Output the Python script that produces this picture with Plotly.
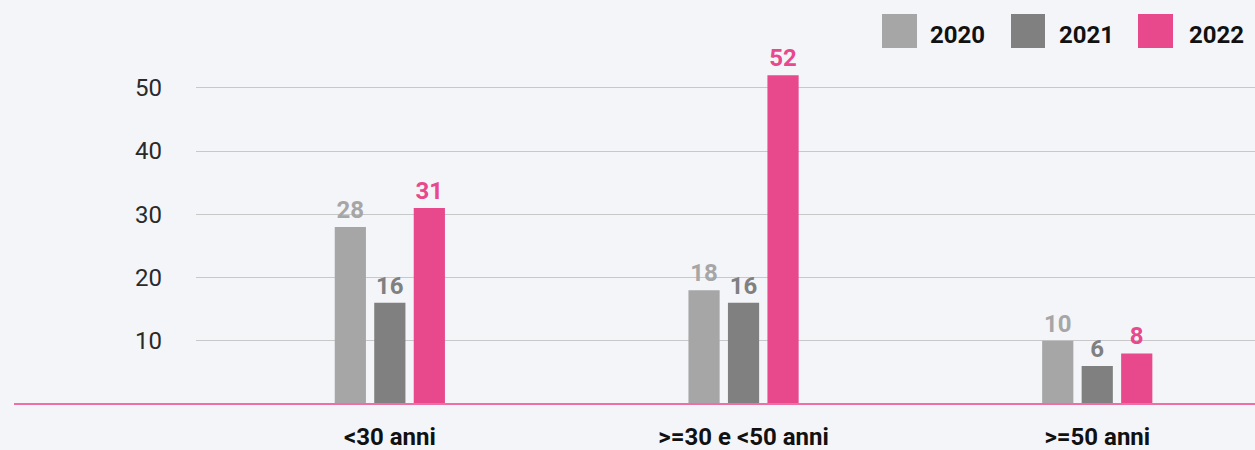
import plotly.graph_objects as go

# Data
categories = ["&lt;30 anni", "&gt;=30 e &lt;50 anni", "&gt;=50 anni"]
years = ["2020", "2021", "2022"]
values_2020 = [28, 18, 10]
values_2021 = [16, 16, 6]
values_2022 = [31, 52, 8]
colors = ["#a6a6a6", "#808080", "#e8488c"]

y_ticks = [10, 20, 30, 40, 50]

BG = "#f4f5f9"
FONT = "Roboto"

# figure geometry (pixels) used for the manual legend / baseline
W, H = 1255, 450
L, R, T, B = 196, 0, 60, 46


def px_x(px):
    return (px - L) / (W - L - R)


def px_y(py):
    return (H - B - py) / (H - T - B)


fig = go.Figure()

for name, vals, col in zip(years, [values_2020, values_2021, values_2022], colors):
    fig.add_trace(go.Bar(
        x=categories,
        y=vals,
        name=name,
        marker=dict(color=col, line=dict(width=0)),
        texttemplate="%{y}",
        textposition="outside",
        textfont=dict(color=col, size=24, family=FONT, weight="bold"),
        cliponaxis=False,
        showlegend=False,
    ))

# Legend drawn by hand (big square swatches)
legend_boxes = [(882, 917), (1011, 1045), (1138, 1173)]
legend_text_x = [928, 1057, 1187]
for (x0, x1), tx, col, name in zip(legend_boxes, legend_text_x, colors, years):
    fig.add_shape(type="rect", xref="paper", yref="paper",
                  x0=px_x(x0), x1=px_x(x1), y0=px_y(48), y1=px_y(14),
                  fillcolor=col, line=dict(width=0))
    fig.add_annotation(text="<b>%s</b>" % name, xref="paper", yref="paper",
                       x=px_x(tx), y=px_y(35), xanchor="left", yanchor="middle",
                       showarrow=False, font=dict(size=24, color="#111111", family=FONT))

# pink baseline extending to the left edge
fig.add_shape(type="line", xref="paper", yref="paper",
              x0=px_x(14), x1=1, y0=0, y1=0,
              line=dict(color="#ee6fa3", width=2))

fig.update_layout(
    width=W, height=H,
    margin=dict(l=L, r=R, t=T, b=B, autoexpand=False),
    paper_bgcolor=BG,
    plot_bgcolor=BG,
    barmode="group",
    bargap=0.665,
    bargroupgap=0.21,
    font=dict(family=FONT, size=24, color="#222222"),
    showlegend=False,
)

fig.update_xaxes(
    range=[-0.548, 2.446],
    showgrid=False,
    showline=False,
    zeroline=False,
    ticks="",
    tickfont=dict(size=24, color="#111111", family=FONT, weight="bold"),
    ticklabelstandoff=16,
    automargin=False,
)

fig.update_yaxes(
    range=[0, 54.4],
    tickvals=y_ticks,
    showgrid=True,
    gridcolor="#c8c8c8",
    gridwidth=1,
    zeroline=False,
    showline=False,
    ticks="",
    tickfont=dict(size=24, color="#2a2a2a", family=FONT),
    ticklabelstandoff=33,
    automargin=False,
)

# drop the default page margin so the figure sits at the window's top-left
fig.write_html("out.html", config={"displayModeBar": False},
               post_script="document.body.style.margin='0';")
